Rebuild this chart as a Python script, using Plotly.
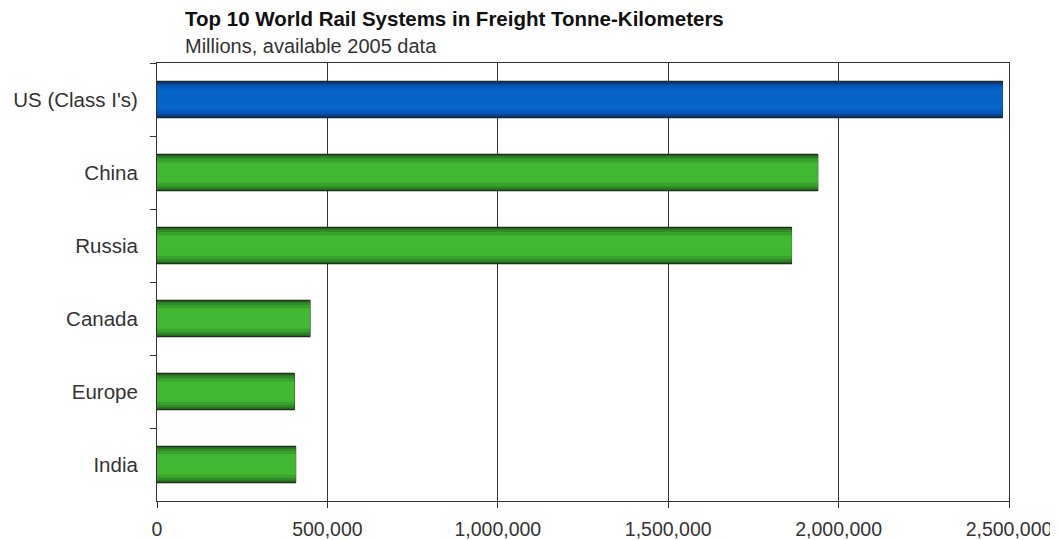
import plotly.graph_objects as go

# Data
countries = ["US (Class I's)", "China", "Russia", "Canada", "Europe", "India"]
tonne_km = [2481000, 1939000, 1862000, 449000, 403000, 407000]
x_ticks = [0, 500000, 1000000, 1500000, 2000000, 2500000]
x_tick_labels = ["0", "500,000", "1,000,000", "1,500,000", "2,000,000", "2,500,000"]

FONT = "Liberation Sans, Arial, sans-serif"

# gradient layers (outer -> inner): (bar width, blue shade, green shade)
layers = [
    (0.50, "#0b2450", "#1d4a17"),
    (0.47, "#0a3a80", "#28701f"),
    (0.43, "#074ea6", "#308c27"),
    (0.37, "#055bbd", "#39a22d"),
    (0.28, "#0664c9", "#42b734"),
]

fig = go.Figure()
for i, (w, blue, green) in enumerate(layers):
    colors = [blue if c.startswith("US") else green for c in countries]
    fig.add_trace(go.Bar(
        x=tonne_km, y=countries, orientation="h", width=w,
        marker=dict(color=colors,
                    line=dict(color="#0d1a0d" if i == 0 else "rgba(0,0,0,0)", width=1 if i == 0 else 0)),
        showlegend=False, hoverinfo="x+y",
    ))

fig.update_layout(
    width=1050, height=532,
    barmode="overlay",
    paper_bgcolor="white", plot_bgcolor="white",
    margin=dict(l=149, r=49, t=55, b=39),
    font=dict(family=FONT, size=20, color="#333333"),
    xaxis=dict(
        range=[0, 2500000], tickvals=x_ticks, ticktext=x_tick_labels,
        showgrid=True, gridcolor="#333333", gridwidth=1,
        showline=True, linecolor="#333333", linewidth=1, mirror=True,
        ticks="outside", ticklen=6, tickcolor="#333333",
        tickfont=dict(size=19.5, color="#333333"), zeroline=False,
        ticklabelstandoff=5, automargin=False,
    ),
    yaxis=dict(
        categoryorder="array", categoryarray=countries, autorange="reversed",
        showline=True, linecolor="#333333", linewidth=1, mirror=True,
        ticks="outside", ticklen=6, tickcolor="#333333", tickson="boundaries",
        tickfont=dict(size=20.5, color="#333333"), showgrid=False,
        ticklabelstandoff=14, automargin=False,
    ),
    annotations=[
        dict(text="<b>Top 10 World Rail Systems in Freight Tonne-Kilometers</b>",
             xref="paper", yref="paper", x=(183 - 157) / 852, y=1, yshift=31,
             xanchor="left", yanchor="bottom", showarrow=False,
             font=dict(family=FONT, size=20.5, color="#111111")),
        dict(text="Millions, available 2005 data",
             xref="paper", yref="paper", x=(183 - 157) / 852, y=1, yshift=4,
             xanchor="left", yanchor="bottom", showarrow=False,
             font=dict(family=FONT, size=20, color="#333333")),
    ],
)

fig.write_html("out.html")
